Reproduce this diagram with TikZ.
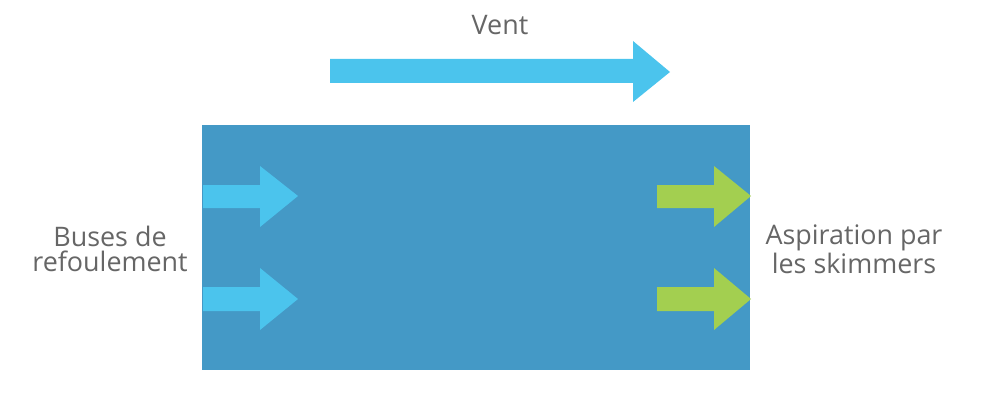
\documentclass[tikz,border=0pt]{standalone}
\usepackage{fontspec}
\setmainfont{Open Sans}
\usepackage{xcolor,tikz}
\usetikzlibrary{positioning}
\definecolor{pool}{HTML}{4499C6}
\definecolor{flow}{HTML}{4BC4ED}
\definecolor{skim}{HTML}{A3CF50}
\definecolor{txt}{HTML}{666666}
\tikzset{lbl/.style={text=txt,font=\fontsize{15.3}{14.3}\selectfont,align=center,inner sep=0pt}}

\begin{document}
\begin{tikzpicture}[x=0.2mm,y=-0.2mm]
\useasboundingbox (0,0) rectangle (1000,412);
% bassin
\fill[pool] (202,125) rectangle (750,370);
% vent
\fill[flow] (330,59)--(633,59)--(633,41)--(670,72)--(633,102)--(633,83)--(330,83)--cycle;
\node[lbl] (vent) at (500,25) {Vent};
% buses
\fill[flow] (203,185)--(260,185)--(260,166)--(298,196)--(260,227)--(260,208)--(203,208)--cycle;
\fill[flow] (203,287)--(260,287)--(260,268)--(298,299)--(260,330)--(260,311)--(203,311)--cycle;
% skimmers
\fill[skim] (657,185)--(714,185)--(714,166)--(751,196)--(714,227)--(714,208)--(657,208)--cycle;
\fill[skim] (657,287)--(714,287)--(714,268)--(751,299)--(714,330)--(714,311)--(657,311)--cycle;
\node[lbl] (buses) at (110,249) {Buses de\\refoulement};
\node[lbl] (aspi) at (854,249) {Aspiration par\\les skimmers};
\end{tikzpicture}
\end{document}
